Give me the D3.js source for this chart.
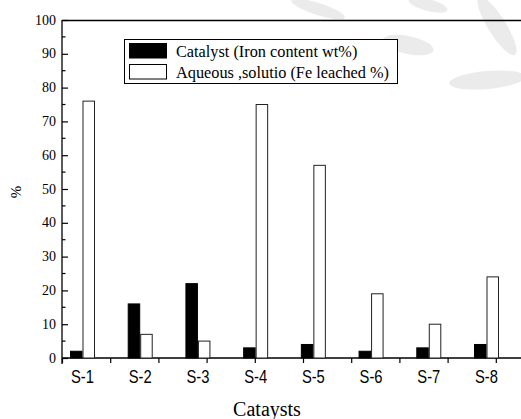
<!DOCTYPE html>
<html>
<head>
<meta charset="utf-8">
<script src="https://cdn.jsdelivr.net/npm/d3@7"></script>
<style>
  body { margin: 0; background: #fff; }
  svg { display: block; }
  .serif { font-family: "Liberation Serif", "Times New Roman", Times, "DejaVu Serif", serif; }
  .sans { font-family: "Liberation Sans", Arial, Helvetica, sans-serif; }
</style>
</head>
<body>
<div id="chart-area"></div>
<script>
// data
const categories = ["S-1", "S-2", "S-3", "S-4", "S-5", "S-6", "S-7", "S-8"];
const ironContent = [2, 16, 22, 3, 4, 2, 3, 4];      // Catalyst (Iron content wt%)
const feLeached   = [76, 7, 5, 75, 57, 19, 10, 24];  // Aqueous ,solutio (Fe leached %)
const yTicks = [0, 10, 20, 30, 40, 50, 60, 70, 80, 90, 100];
const seriesNames = ["Catalyst (Iron content wt%)", "Aqueous ,solutio (Fe leached %)"];

const W = 521, H = 419;
const LEFT = 62, TOP = 20, BOTTOM = 358;

const svg = d3.select("#chart-area").append("svg")
    .attr("width", W)
    .attr("height", H);

// faint watermark blobs behind the plot
const blobs = svg.append("g").attr("fill", "#ebebeb");
[[318, 9, 28, 6, 18], [428, 5, 20, 6, 15], [408, 45, 26, 9, 12],
 [497, 26, 9, 34, -32], [487, 80, 38, 9, -5]].forEach(b => {
    blobs.append("ellipse")
        .attr("transform", `translate(${b[0]},${b[1]}) rotate(${b[4]})`)
        .attr("rx", b[2]).attr("ry", b[3]);
});

// scales
const y = d3.scaleLinear().domain([0, 100]).range([BOTTOM, TOP]);
const xc = d3.scalePoint().domain(categories).range([82.5, 486.5]);
const xTick = d3.scaleLinear().domain([0, 10]).range([LEFT, 544]);
const barW = 11.5;

// frame: top border line
svg.append("line")
    .attr("x1", LEFT).attr("x2", W).attr("y1", TOP + 0.5).attr("y2", TOP + 0.5)
    .attr("stroke", "#000").attr("stroke-width", 1.3);

// y axis (ticks inward)
const yAxis = svg.append("g")
    .attr("transform", `translate(${LEFT},0)`)
    .call(d3.axisRight(y).tickValues(yTicks).tickSize(6).tickFormat(""));
yAxis.select(".domain").remove();
yAxis.selectAll("line").attr("stroke", "#000").attr("stroke-width", 1.2);
// minor ticks
svg.append("g").selectAll("line")
    .data(d3.range(5, 100, 10))
    .join("line")
    .attr("x1", LEFT).attr("x2", LEFT + 3.5)
    .attr("y1", d => y(d)).attr("y2", d => y(d))
    .attr("stroke", "#000").attr("stroke-width", 1.2);
svg.append("line")
    .attr("x1", LEFT).attr("x2", LEFT).attr("y1", TOP).attr("y2", BOTTOM + 6)
    .attr("stroke", "#000").attr("stroke-width", 1.3);

svg.append("g").selectAll("text")
    .data(yTicks)
    .join("text")
    .attr("class", "serif")
    .attr("x", LEFT - 6)
    .attr("y", d => y(d) + 4.5)
    .attr("text-anchor", "end")
    .style("font-size", "14px")
    .text(d => d);

// x axis (plain ticks, labels are separate)
const xAxis = svg.append("g")
    .attr("transform", `translate(0,${BOTTOM})`)
    .call(d3.axisBottom(xTick).tickValues(d3.range(0, 10)).tickSize(5).tickFormat(""));
xAxis.select(".domain").remove();
xAxis.selectAll("line").attr("stroke", "#000").attr("stroke-width", 1.2);
svg.append("line")
    .attr("x1", LEFT).attr("x2", W).attr("y1", BOTTOM).attr("y2", BOTTOM)
    .attr("stroke", "#000").attr("stroke-width", 1.3);

// bars
svg.append("g").selectAll("rect")
    .data(categories)
    .join("rect")
    .attr("x", (d, i) => xc(d) - barW - 0.5)
    .attr("y", (d, i) => y(ironContent[i]))
    .attr("width", barW)
    .attr("height", (d, i) => y(0) - y(ironContent[i]))
    .attr("fill", "#000")
    .attr("stroke", "#000")
    .attr("stroke-width", 1);

svg.append("g").selectAll("rect")
    .data(categories)
    .join("rect")
    .attr("x", (d, i) => xc(d) + 0.5)
    .attr("y", (d, i) => y(feLeached[i]))
    .attr("width", barW)
    .attr("height", (d, i) => y(0) - y(feLeached[i]))
    .attr("fill", "#fff")
    .attr("stroke", "#222")
    .attr("stroke-width", 1);

// category labels
svg.append("g").selectAll("text")
    .data(categories)
    .join("text")
    .attr("class", "sans")
    .attr("transform", d => `translate(${xc(d)},383) scale(0.82,1)`)
    .attr("text-anchor", "middle")
    .style("font-size", "18px")
    .text(d => d);

// axis titles
svg.append("text")
    .attr("class", "serif")
    .attr("x", 267).attr("y", 416)
    .attr("text-anchor", "middle")
    .style("font-size", "20px")
    .text("Cataysts");

svg.append("text")
    .attr("class", "serif")
    .attr("transform", "translate(21,192) rotate(-90)")
    .attr("text-anchor", "middle")
    .style("font-size", "15px")
    .text("%");

// legend
const legend = svg.append("g");
legend.append("rect")
    .attr("x", 124.5).attr("y", 39.5).attr("width", 273).attr("height", 44)
    .attr("fill", "#fff").attr("stroke", "#000").attr("stroke-width", 1);
const swatchFill = ["#000", "#fff"];
seriesNames.forEach((name, i) => {
    legend.append("rect")
        .attr("x", 129.5).attr("y", 43.5 + i * 21).attr("width", 37).attr("height", 14.5)
        .attr("fill", swatchFill[i]).attr("stroke", "#000").attr("stroke-width", 1);
    legend.append("text")
        .attr("class", "serif")
        .attr("x", 176).attr("y", 57 + i * 21)
        .style("font-size", "16.3px")
        .text(name);
});
</script>
</body>
</html>
